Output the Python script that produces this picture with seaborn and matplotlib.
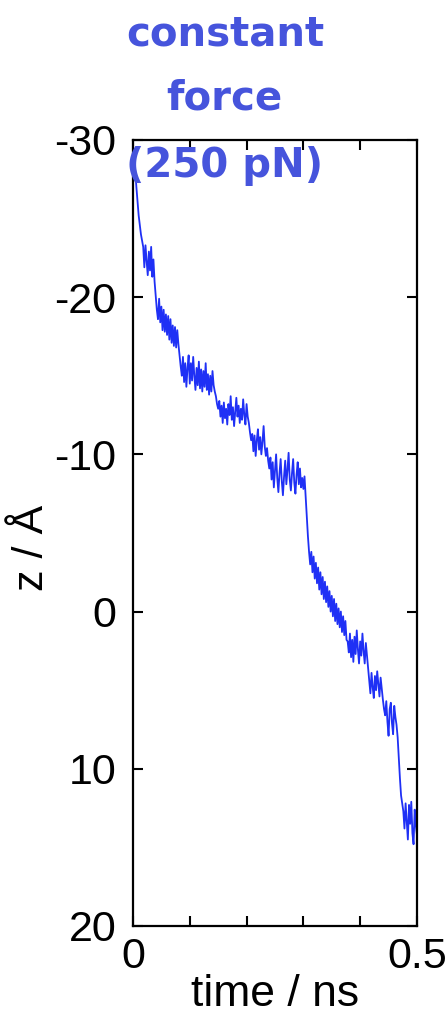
import pandas as pd
import matplotlib
matplotlib.use("Agg")
import matplotlib.pyplot as plt
import seaborn as sns

### trace: time in ps, z in Angstrom
time_ps = [
    0, 2, 4, 6, 8, 10, 12, 14, 16, 18,
    20, 22, 24, 26, 28, 30, 32, 34, 36, 38,
    40, 42, 44, 46, 48, 50, 52, 54, 56, 58,
    60, 62, 64, 66, 68, 70, 72, 74, 76, 78,
    80, 82, 84, 86, 88, 90, 92, 94, 96, 98,
    100, 102, 104, 106, 108, 110, 112, 114, 116, 118,
    120, 122, 124, 126, 128, 130, 132, 134, 136, 138,
    140, 142, 144, 146, 148, 150, 152, 154, 156, 158,
    160, 162, 164, 166, 168, 170, 172, 174, 176, 178,
    180, 182, 184, 186, 188, 190, 192, 194, 196, 198,
    200, 202, 204, 206, 208, 210, 212, 214, 216, 218,
    220, 222, 224, 226, 228, 230, 232, 234, 236, 238,
    240, 242, 244, 246, 248, 250, 252, 254, 256, 258,
    260, 262, 264, 266, 268, 270, 272, 274, 276, 278,
    280, 282, 284, 286, 288, 290, 292, 294, 296, 298,
    300, 302, 304, 306, 308, 310, 312, 314, 316, 318,
    320, 322, 324, 326, 328, 330, 332, 334, 336, 338,
    340, 342, 344, 346, 348, 350, 352, 354, 356, 358,
    360, 362, 364, 366, 368, 370, 372, 374, 376, 378,
    380, 382, 384, 386, 388, 390, 392, 394, 396, 398,
    400, 402, 404, 406, 408, 410, 412, 414, 416, 418,
    420, 422, 424, 426, 428, 430, 432, 434, 436, 438,
    440, 442, 444, 446, 448, 450, 452, 454, 456, 458,
    460, 462, 464, 466, 468, 470, 472, 474, 476, 478,
    480, 482, 484, 486, 488, 490, 492, 494, 496, 498,
    500,
]

z_angstrom = [
    -29.6, -28.9, -28.0, -27.0, -26.1, -25.2, -24.6, -24.0, -23.6, -23.2,
    -21.9, -23.3, -22.3, -21.4, -22.9, -21.7, -23.2, -21.3, -22.4, -21.0,
    -20.1, -19.2, -18.6, -19.9, -18.4, -19.4, -17.9, -19.2, -17.8, -18.9,
    -17.6, -18.8, -17.3, -18.6, -17.1, -18.2, -16.9, -18.1, -16.8, -17.9,
    -17.0, -16.3, -15.6, -15.0, -16.2, -14.6, -15.8, -14.3, -15.5, -16.3,
    -14.5, -15.8, -14.7, -16.2, -15.0, -14.1, -15.5, -14.4, -15.9, -14.2,
    -15.4, -14.0, -15.3, -14.3, -15.8, -14.1, -15.1, -13.8, -15.0, -14.0,
    -15.3, -14.4, -14.0, -13.7, -13.2, -12.9, -13.4, -12.4, -13.1, -12.0,
    -13.3, -12.3, -12.9, -11.9, -13.2, -12.5, -13.7, -12.2, -13.0, -11.8,
    -12.7, -13.6, -12.4, -13.1, -12.0, -12.9, -12.2, -13.5, -12.5, -11.9,
    -13.2, -12.4, -12.0, -11.4, -10.9, -11.3, -10.2, -11.2, -9.9, -10.9,
    -11.6, -10.3, -11.1, -10.0, -10.8, -11.8, -10.5, -9.9, -10.4, -9.6,
    -9.1, -9.8, -8.4, -9.5, -7.9, -9.0, -10.0, -8.5, -7.6, -8.8,
    -9.7, -8.3, -7.4, -8.6, -9.6, -8.1, -9.0, -10.1, -8.4, -7.7,
    -8.8, -9.7, -8.2, -7.5, -8.7, -9.5, -8.1, -9.1, -7.9, -8.5,
    -7.8, -8.6, -7.3, -6.0, -4.8, -3.8, -3.0, -3.8, -2.5, -3.5,
    -2.1, -3.1, -1.8, -2.8, -1.4, -2.5, -1.1, -2.2, -0.8, -1.9,
    -0.6, -1.6, -0.3, -1.3, 0.0, -1.0, 0.3, -0.8, 0.6, -0.5,
    0.8, -0.2, 1.0, 0.0, 1.3, 0.3, 1.5, 0.6, 1.8, 1.9,
    2.6, 1.4, 2.9, 1.8, 3.2, 1.6, 2.7, 1.2, 2.4, 3.3,
    1.9, 2.8, 1.4, 2.5, 3.3, 2.0, 2.8, 3.6, 4.4, 5.2,
    3.9, 4.8, 5.5, 4.1, 5.0, 3.8, 4.6, 5.4, 4.2, 4.9,
    5.6, 6.2, 6.6, 5.7, 7.0, 7.9, 6.2, 5.8, 7.1, 7.8,
    6.0, 6.7, 7.2, 8.0, 9.3, 10.6, 11.7, 12.2, 12.7, 13.8,
    12.2, 13.3, 14.5, 12.3, 13.5, 12.1, 14.1, 14.8, 12.6, 13.6,
    14.2,
]

x_ticks = [0, 0.1, 0.2, 0.3, 0.4, 0.5]
x_tick_labels = ['0', '', '', '', '', '0.5']
y_ticks = [-30, -20, -10, 0, 10, 20]
y_tick_labels = ['-30', '-20', '-10', '0', '10', '20']
title_lines = ['constant', 'force', '(250 pN)']


def get_data_as_df():
    df = pd.DataFrame({'time': time_ps, 'z': z_angstrom})
    df['time'] = df['time'] / 1000.0
    return df


### draw the z trace under constant force
def draw_trace(df):
    sns.set_style('ticks')
    plt.rcParams['font.family'] = ['Liberation Sans', 'DejaVu Sans']

    fig = plt.figure(figsize=(4.47, 10.18), dpi=100)
    ax = fig.add_axes([0.2975, 0.0904, 0.6353, 0.7721])

    sns.lineplot(data=df, x='time', y='z', ax=ax, color='#1f30f5',
                 linewidth=1.3, estimator=None, sort=False)

    ax.set_xlim(0, 0.5)
    ax.set_ylim(20, -30)
    ax.set_xticks(x_ticks)
    ax.set_xticklabels(x_tick_labels)
    ax.set_yticks(y_ticks)
    ax.set_yticklabels(y_tick_labels)
    ax.tick_params(direction='in', length=7, width=1.5, labelsize=31,
                   top=True, right=True, colors='black')
    ax.tick_params(axis='y', pad=12)
    ax.tick_params(axis='x', pad=8)
    for s in ax.spines.values():
        s.set_linewidth(1.6)
        s.set_color('black')

    ax.set_xlabel('time / ns', fontsize=32, labelpad=-2, color='black')
    ax.set_ylabel('z / Å', fontsize=31, color='black')
    ax.yaxis.set_label_coords(-0.285, 0.481)

    ys = [45, 110, 177]
    for line, y in zip(title_lines, ys):
        fig.text(0.503, 1 - y / 1018, line, ha='center', va='baseline',
                 fontsize=29, fontweight='bold', color='#4654dc',
                 family=['DejaVu Sans'])

    fig.savefig('out.png', dpi=100, facecolor='white')


if __name__ == "__main__":
    df = get_data_as_df()
    draw_trace(df)
